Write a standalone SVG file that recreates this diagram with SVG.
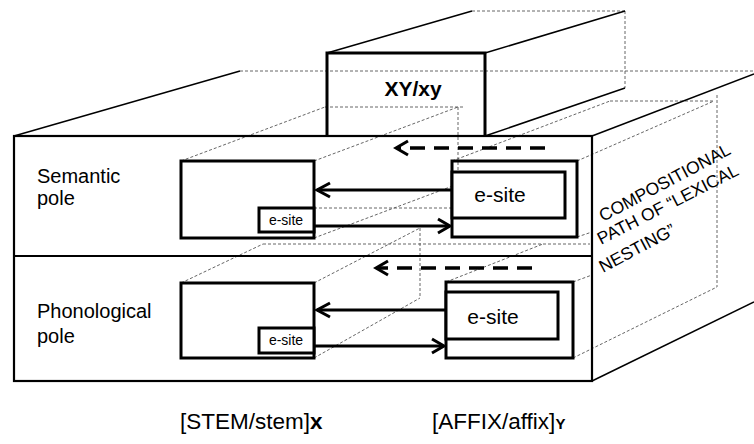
<svg xmlns="http://www.w3.org/2000/svg" width="754" height="444" viewBox="0 0 754 444">
<style>
.dt{stroke:#555;stroke-width:0.9;stroke-dasharray:3,2;fill:none}
.edge{stroke:#000;stroke-width:1.5;fill:none}
.frame{stroke:#000;stroke-width:2.2;fill:none}
.box{stroke:#000;stroke-width:3;fill:none}
.boxw{stroke:#000;stroke-width:3;fill:#fff}
.arr{stroke:#000;stroke-width:3;fill:none}
.darr{stroke:#000;stroke-width:3.5;fill:none;stroke-dasharray:15,9}
.head{stroke:#000;stroke-width:3;fill:none;stroke-linejoin:miter}
text{font-family:"Liberation Sans",Arial,sans-serif;fill:#000}
.lbl{font-size:20px}
.es{font-size:14px;text-anchor:middle}
.el{font-size:21px;text-anchor:middle}
.rot{font-size:17.5px}
</style>
<rect width="754" height="444" fill="#fff"/>

<g id="projection">
<line class="dt" x1="240" y1="71" x2="754" y2="71"/>
<line class="dt" x1="472" y1="11" x2="625" y2="11"/>
<line class="dt" x1="625" y1="11" x2="625" y2="88"/>
<line class="dt" x1="181" y1="161" x2="325" y2="107"/>
<line class="dt" x1="325" y1="107" x2="463" y2="107"/>
<line class="dt" x1="314" y1="161" x2="458" y2="107"/>
<line class="dt" x1="458" y1="107" x2="458" y2="184"/>
<line class="dt" x1="314" y1="238" x2="458" y2="184"/>
<line class="dt" x1="314" y1="208" x2="452" y2="208"/>
<line class="dt" x1="452" y1="161" x2="610" y2="101"/>
<line class="dt" x1="610" y1="101" x2="714" y2="101"/>
<line class="dt" x1="577" y1="161" x2="714" y2="101"/>
<line class="dt" x1="717" y1="95" x2="717" y2="287"/>
<line class="dt" x1="573" y1="358" x2="717" y2="287"/>
<line class="dt" x1="577" y1="237" x2="592" y2="232"/>
<line class="dt" x1="573" y1="282" x2="592" y2="275"/>
<line class="dt" x1="181" y1="283" x2="263" y2="244"/>
<line class="dt" x1="263" y1="244" x2="590" y2="244"/>
<line class="dt" x1="314" y1="283" x2="420" y2="228"/>
<line class="dt" x1="420" y1="228" x2="420" y2="298"/>
<line class="dt" x1="314" y1="358" x2="420" y2="298"/>
<line class="dt" x1="446" y1="282" x2="543" y2="244"/>
</g>

<g id="main-block">
<line class="edge" x1="14" y1="136" x2="240" y2="71"/>
<line class="edge" x1="592" y1="136" x2="754" y2="74"/>
<line class="edge" x1="592" y1="381" x2="754" y2="302"/>
<rect class="frame" x="14" y="136" width="578" height="245"/>
<line class="frame" x1="14" y1="256" x2="592" y2="256"/>
</g>

<g id="xy-box">
<line class="edge" x1="327" y1="53" x2="472" y2="11"/>
<line class="edge" x1="485" y1="53" x2="625" y2="11"/>
<line class="edge" x1="485" y1="136" x2="625" y2="88"/>
<path class="box" d="M327,136 V53 H485 V136"/>
<text x="413" y="96" font-size="21" font-weight="bold" text-anchor="middle">XY/xy</text>
</g>

<g id="semantic-label"><text class="lbl" x="37" y="183">Semantic</text><text class="lbl" x="37" y="205">pole</text></g>
<g id="phonological-label"><text class="lbl" x="37" y="318">Phonological</text><text class="lbl" x="37" y="343">pole</text></g>

<g id="sem-stem">
<rect class="boxw" x="181" y="161" width="133" height="77"/>
<rect class="boxw" x="259" y="208" width="55" height="24"/>
<text class="es" x="286" y="225">e-site</text>
</g>
<g id="sem-affix">
<rect class="box" x="452" y="161" width="125" height="76"/>
<rect class="boxw" x="452" y="172" width="113" height="46"/>
<text class="el" x="500" y="202">e-site</text>
</g>
<g id="pho-stem">
<rect class="boxw" x="181" y="283" width="133" height="75"/>
<rect class="boxw" x="259" y="328" width="55" height="25"/>
<text class="es" x="286" y="345">e-site</text>
</g>
<g id="pho-affix">
<rect class="box" x="446" y="282" width="127" height="76"/>
<rect class="boxw" x="446" y="292" width="112" height="47"/>
<text class="el" x="493" y="324">e-site</text>
</g>

<g id="connectors">
<line class="arr" x1="452" y1="190" x2="317" y2="190"/>
<polyline class="head" points="330,183 317,190 330,197"/>
<line class="arr" x1="314" y1="226" x2="449" y2="226"/>
<polyline class="head" points="438,219 450,226 438,233"/>
<line class="arr" x1="446" y1="310" x2="317" y2="310"/>
<polyline class="head" points="330,303 317,310 330,317"/>
<line class="arr" x1="314" y1="346" x2="443" y2="346"/>
<polyline class="head" points="432,339 444,346 432,353"/>
<line class="darr" x1="545" y1="148" x2="397" y2="148"/>
<polyline class="head" points="408,141 396,148 408,155"/>
<line class="darr" x1="532" y1="268" x2="377" y2="268"/>
<polyline class="head" points="388,261 376,268 388,275"/>
</g>

<g id="path-label">
<text class="rot" transform="translate(603,222) rotate(-28)">COMPOSITIONAL</text>
<text class="rot" transform="translate(601,245) rotate(-27)">PATH OF “LEXICAL</text>
<text class="rot" transform="translate(603,273) rotate(-28)">NESTING”</text>
</g>

<g id="bottom-labels">
<text x="180" y="429" font-size="22.5">[STEM/stem]<tspan font-weight="bold">x</tspan></text>
<text x="432" y="429" font-size="22.5">[AFFIX/affix]<tspan font-weight="bold" font-size="15">Y</tspan></text>
</g>
</svg>
